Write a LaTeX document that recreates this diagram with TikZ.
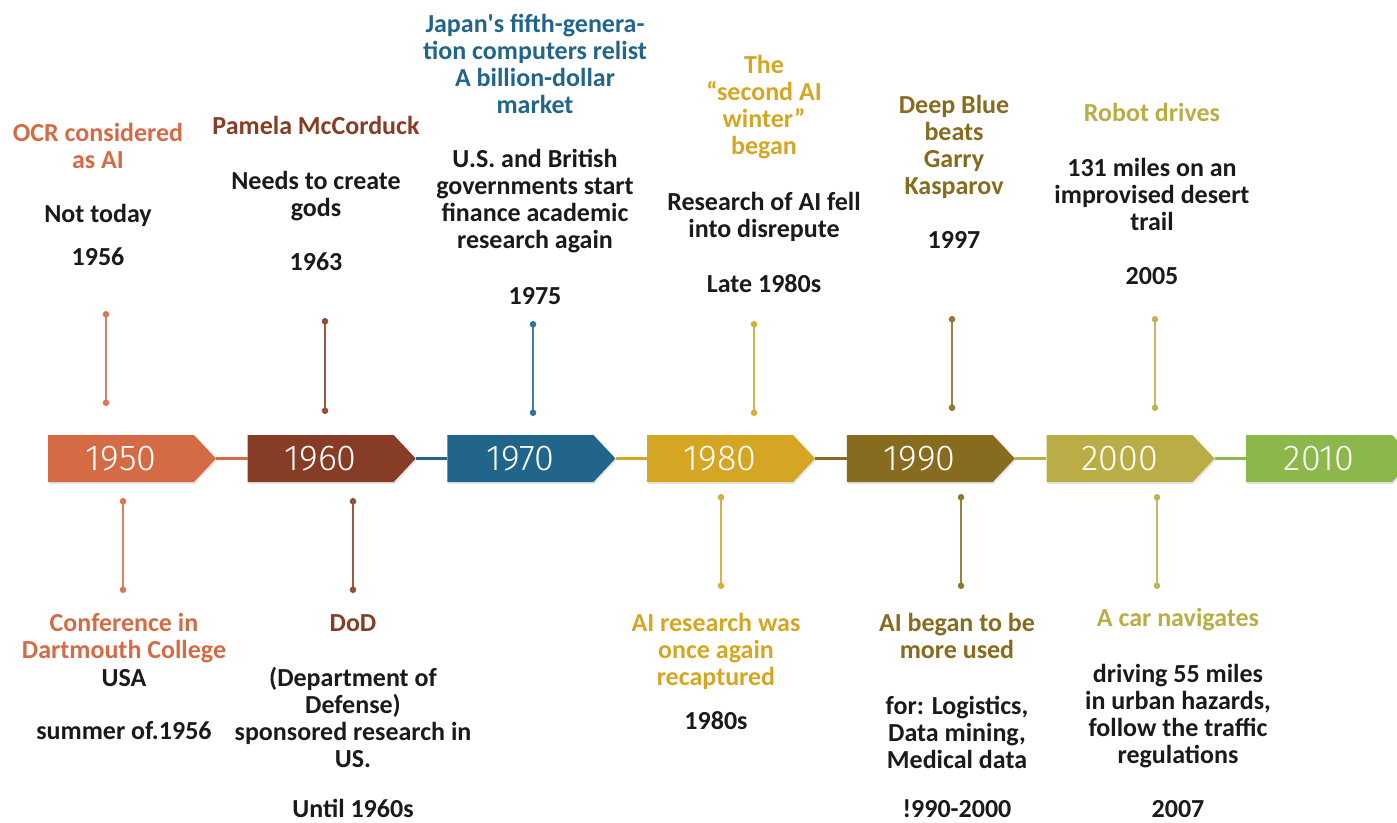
\documentclass[tikz,border=0pt]{standalone}
\usepackage{fontspec}
\setmainfont{Carlito}
\newfontfamily\yearfont{Fira Sans Light}
\usetikzlibrary{arrows.meta,shadows}
\definecolor{c50}{RGB}{213,107,69}
\definecolor{c60}{RGB}{135,61,37}
\definecolor{c70}{RGB}{33,102,138}
\definecolor{c80}{RGB}{213,166,35}
\definecolor{c90}{RGB}{135,107,30}
\definecolor{c00}{RGB}{186,173,69}
\definecolor{c10}{RGB}{139,183,75}
\definecolor{ink}{RGB}{26,26,26}

\begin{document}
\begin{tikzpicture}
		[x=1pt, y=-1pt,
		 yearbox/.style={minimum width=146pt, minimum height=47pt, inner sep=0pt, text=white, font=\yearfont\fontsize{36}{36}\selectfont},
		 head/.style={align=center, anchor=base, font=\bfseries\fontsize{26}{27}\selectfont},
		 body/.style={head, text=ink},
		 stem/.style={line width=1.8pt, opacity=0.85, {Circle[length=6.5pt]}-{Circle[length=6.5pt]}},
		 link/.style={line width=3pt}]
			\useasboundingbox (0,0) rectangle (1397,822);
			\foreach \yr/\col [count=\i from 0] in {1950/c50,1960/c60,1970/c70,1980/c80,1990/c90,2000/c00,2010/c10} {
				\pgfmathsetmacro\l{48+199.7*\i}
				\fill[\col, drop shadow={opacity=0.2, shadow xshift=1pt, shadow yshift=-2pt}]
					(\l,435) -- (\l+146,435) -- (\l+168,458.5) -- (\l+146,482) -- (\l,482) -- cycle;
				\node[yearbox] (y\yr) at (\l+73,458.5) {\yr};
			}
			\foreach \a/\b/\col in {1950/1960/c50,1960/1970/c70,1970/1980/c80,1980/1990/c90,1990/2000/c00,2000/2010/c10}
				\draw[link, \col] ([xshift=22pt]y\a.east) -- (y\b.west);
			\foreach \n/\x/\ya/\yb/\col in {t50/106/311/406/c50, t60/325/318/414/c60, t70/533/321/416/c70,
				t80/754/321/416/c80, t90/952/316/411/c90, t00/1155/316/411/c00,
				b50/123/498/593/c50, b60/353/498/593/c60, b80/721/494/589/c80,
				b90/961/494/589/c90, b00/1157/494/589/c00} {
				\coordinate (\n a) at (\x,\ya);
				\coordinate (\n b) at (\x,\yb);
				\draw[stem, \col] (\n a) -- (\n b);
			}
			\node[head, text=c50] (t50h) at (98,168) {OCR considered\\as AI};
			\node[body] (t50b) at (98,222) {Not today};
			\node[body] (t50d) at (98,265) {1956};
			\node[head, text=c60] (t60h) at (316,134) {Pamela McCorduck};
			\node[body] (t60b) at (316,216) {Needs to create\\gods};
			\node[body] (t60d) at (316,270) {1963};
			\node[head, text=c70] (t70h) at (535,113) {Japan\textquotesingle s fifth-genera-\\tion computers relist\\A billion-dollar\\market};
			\node[body] (t70b) at (535,248) {U.S. and British\\governments start\\finance academic\\research again};
			\node[body] (t70d) at (535,304) {1975};
			\node[head, text=c80] (t80h) at (764,154) {The\\“second AI\\winter”\\began};
			\node[body] (t80b) at (764,237) {Research of AI fell\\into disrepute};
			\node[body] (t80d) at (764,292) {Late 1980s};
			\node[head, text=c90] (t90h) at (954,194) {Deep Blue\\beats\\Garry\\Kasparov};
			\node[body] (t90d) at (954,248) {1997};
			\node[head, text=c00] (t00h) at (1152,121) {Robot drives};
			\node[body] (t00b) at (1152,230) {131 miles on an\\improvised desert\\trail};
			\node[body] (t00d) at (1152,284) {2005};
			\node[head, text=c50] (b50h) at (124,658) {Conference in\\Dartmouth College};
			\node[body] (b50b) at (124,686) {USA};
			\node[body] (b50d) at (124,739) {summer of.1956};
			\node[head, text=c60] (b60h) at (353,631) {DoD};
			\node[body] (b60b) at (353,767) {(Department of\\Defense)\\sponsored research in\\US.};
			\node[body] (b60d) at (353,817) {Until 1960s};
			\node[head, text=c80] (b80h) at (716,685) {AI research was\\once again\\recaptured};
			\node[body] (b80d) at (716,729) {1980s};
			\node[head, text=c90] (b90h) at (957,658) {AI began to be\\more used};
			\node[body] (b90b) at (957,768) {for: Logistics,\\Data mining,\\Medical data};
			\node[body] (b90d) at (957,817) {!990-2000};
			\node[head, text=c00] (b00h) at (1178,626) {A car navigates};
			\node[body] (b00b) at (1178,763) {driving 55 miles\\in urban hazards,\\follow the traffic\\regulations};
			\node[body] (b00d) at (1178,817) {2007};
	\end{tikzpicture}
\end{document}
